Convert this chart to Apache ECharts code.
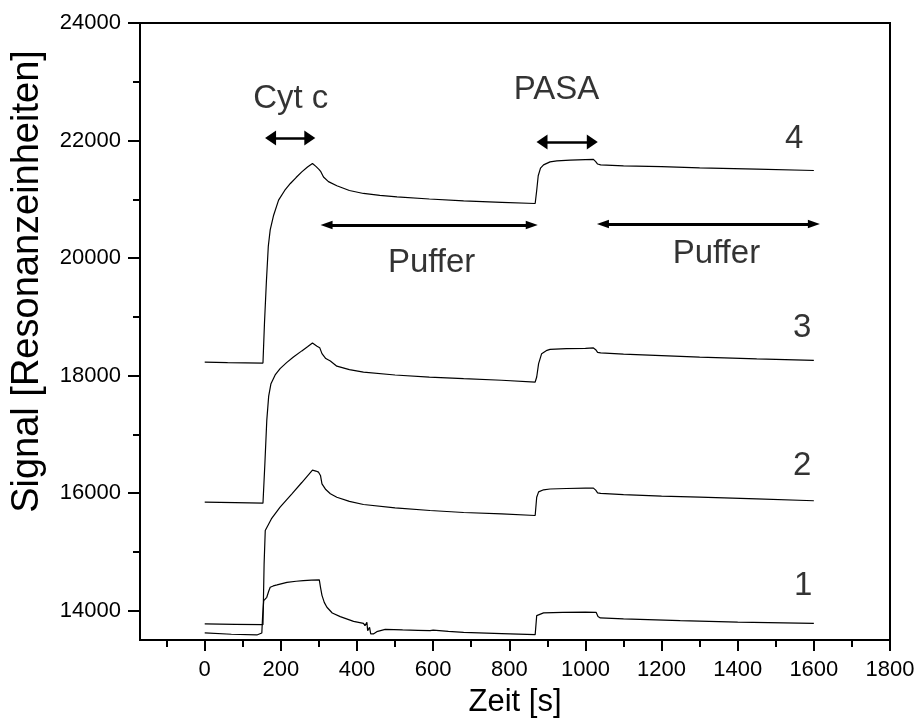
<!DOCTYPE html>
<html>
<head>
<meta charset="utf-8">
<script src="https://cdn.jsdelivr.net/npm/echarts@6/dist/echarts.min.js"></script>
<style>html,body{margin:0;padding:0;background:#fff;}#c{width:919px;height:726px;}</style>
</head>
<body>
<div id="c"></div>
<script>
// ---- data (time in s, signal in resonance units) ----
const time4 = [0, 60, 153, 157, 162, 167, 172, 181, 194, 210, 225, 240, 255, 270, 283, 292, 300, 305, 312, 325, 347, 380, 417, 460, 505, 590, 680, 780, 868, 872, 876, 882, 890, 907, 925, 960, 1000, 1021, 1027, 1032, 1040, 1100, 1200, 1300, 1450, 1600];
const signal4 = [18230, 18222, 18213, 18900, 19600, 20200, 20480, 20729, 20985, 21150, 21269, 21370, 21467, 21550, 21610, 21560, 21510, 21470, 21380, 21300, 21230, 21150, 21099, 21065, 21041, 21005, 20973, 20948, 20928, 21150, 21400, 21530, 21585, 21637, 21654, 21668, 21675, 21678, 21640, 21600, 21585, 21570, 21555, 21535, 21512, 21490];

const time3 = [0, 80, 153, 158, 163, 168, 174, 185, 198, 215, 233, 255, 270, 283, 295, 302, 308, 318, 330, 347, 380, 417, 500, 590, 680, 780, 868, 872, 877, 885, 899, 907, 950, 1000, 1021, 1027, 1032, 1040, 1100, 1200, 1300, 1450, 1600];
const signal3 = [15845, 15838, 15828, 16500, 17237, 17650, 17862, 18010, 18118, 18220, 18315, 18420, 18490, 18554, 18500, 18475, 18373, 18290, 18247, 18160, 18100, 18060, 18010, 17975, 17947, 17920, 17890, 17975, 18203, 18373, 18429, 18446, 18458, 18463, 18470, 18440, 18395, 18385, 18365, 18340, 18315, 18285, 18259];

const time2 = [0, 80, 153, 156, 159, 164, 175, 198, 229, 255, 283, 292, 299, 304, 308, 318, 330, 347, 380, 417, 500, 592, 680, 780, 868, 872, 877, 890, 907, 950, 1000, 1021, 1027, 1032, 1040, 1100, 1200, 1300, 1450, 1600];
const signal2 = [13773, 13767, 13761, 14800, 15363, 15392, 15560, 15760, 15988, 16180, 16390, 16375, 16356, 16300, 16158, 16060, 15990, 15930, 15860, 15806, 15750, 15704, 15670, 15645, 15619, 15930, 16020, 16056, 16070, 16078, 16083, 16085, 16050, 16005, 15995, 15975, 15950, 15930, 15900, 15870];

const time1 = [0, 70, 137, 150, 152, 155, 160, 163, 168, 172, 180, 190, 216, 240, 259, 280, 301, 304, 308, 314, 321, 335, 356, 391, 417, 421, 426, 428, 433, 436, 443, 452, 474, 520, 560, 592, 600, 605, 640, 680, 780, 868, 872, 877, 890, 940, 1000, 1028, 1033, 1039, 1100, 1249, 1400, 1600];
const signal1 = [13620, 13598, 13586, 13620, 13900, 14170, 14160, 14227, 14330, 14397, 14420, 14437, 14482, 14500, 14511, 14518, 14523, 14400, 14260, 14140, 14057, 13960, 13898, 13818, 13784, 13745, 13800, 13659, 13716, 13603, 13603, 13642, 13682, 13672, 13665, 13659, 13668, 13662, 13648, 13630, 13610, 13591, 13915, 13943, 13961, 13971, 13975, 13971, 13900, 13876, 13860, 13830, 13805, 13784];

// ---- ticks ----
const xTickLabels = [0, 200, 400, 600, 800, 1000, 1200, 1400, 1600, 1800];
const xMinorTicks = [-100, 100, 300, 500, 700, 900, 1100, 1300, 1500, 1700];
const yTickLabels = [14000, 16000, 18000, 20000, 22000, 24000];
const yMinorTicks = [15000, 17000, 19000, 21000, 23000];

// ---- annotations (data coordinates) ----
const labelTexts = ['Cyt c', 'PASA', 'Puffer', 'Puffer', '4', '3', '2', '1'];
const labelX = [226, 924, 596, 1344, 1548, 1569, 1569, 1572];
const labelY = [22707, 22860, 19916, 20077, 22026, 18818, 16461, 14419];

const shortArrowX1 = [173, 886];
const shortArrowX2 = [276, 1018];
const shortArrowY = [22043, 21975];
const longArrowX1 = [320, 1046];
const longArrowX2 = [859, 1600];
const longArrowY = [20562, 20579];

const FONT = '"Liberation Sans", Arial, Helvetica, sans-serif';
const zip = (t, s) => t.map((v, i) => [v, s[i]]);
const plain = v => String(v);

const curves = [[time4, signal4], [time3, signal3], [time2, signal2], [time1, signal1]];

const series = curves.map(c => ({
  type: 'line',
  data: zip(c[0], c[1]),
  showSymbol: false,
  symbol: 'none',
  silent: true,
  lineStyle: { color: '#000', width: 1.2 },
  animation: false
}));

function arrowSeries(x1, x2, y, size, width) {
  return {
    type: 'line',
    data: [],
    silent: true,
    animation: false,
    markLine: {
      silent: true,
      animation: false,
      symbol: ['triangle', 'triangle'],
      symbolSize: size,
      label: { show: false },
      lineStyle: { color: '#000', width: width, type: 'solid', opacity: 1 },
      itemStyle: { color: '#000' },
      emphasis: { disabled: true },
      data: x1.map((v, i) => [{ coord: [v, y[i]] }, { coord: [x2[i], y[i]] }])
    }
  };
}

series.push(arrowSeries(shortArrowX1, shortArrowX2, shortArrowY, [15, 11], 2.6));
series.push(arrowSeries(longArrowX1, longArrowX2, longArrowY, [8.5, 12], 3));

series.push({
  type: 'scatter',
  silent: true,
  animation: false,
  symbolSize: 0,
  data: labelTexts.map((t, i) => ({
    value: [labelX[i], labelY[i]],
    label: { show: true, position: 'inside', formatter: t, color: '#000', fontSize: 33, fontFamily: FONT, align: 'center', verticalAlign: 'middle', textBorderWidth: 0 }
  }))
});

const chart = echarts.init(document.getElementById('c'), null, { renderer: 'canvas' });
chart.setOption({
  animation: false,
  backgroundColor: '#fff',
  grid: { left: 140, right: 29, top: 23, bottom: 86, show: true, borderColor: '#000', borderWidth: 2, containLabel: false },
  xAxis: [{
    type: 'value', min: -170, max: 1800,
    name: 'Zeit [s]', nameLocation: 'middle', nameGap: 47,
    nameTextStyle: { color: '#000', fontSize: 31, fontFamily: FONT },
    axisLine: { show: true, onZero: false, lineStyle: { color: '#000', width: 2 } },
    axisTick: { show: true, length: 11, lineStyle: { color: '#000', width: 2 }, customValues: xTickLabels },
    axisLabel: { color: '#000', fontSize: 22, fontFamily: FONT, margin: 19, customValues: xTickLabels, formatter: plain },
    splitLine: { show: false }
  }, {
    type: 'value', min: -170, max: 1800, position: 'bottom', gridIndex: 0,
    axisLine: { show: false, onZero: false },
    axisTick: { show: true, length: 7, lineStyle: { color: '#000', width: 2 }, customValues: xMinorTicks },
    axisLabel: { show: false },
    splitLine: { show: false }
  }],
  yAxis: [{
    type: 'value', min: 13500, max: 24000,
    name: 'Signal [Resonanzeinheiten]', nameLocation: 'middle', nameGap: 93,
    nameTextStyle: { color: '#000', fontSize: 38, fontFamily: FONT, padding: [0, 0, 0, 100] },
    axisLine: { show: true, onZero: false, lineStyle: { color: '#000', width: 2 } },
    axisTick: { show: true, length: 12, lineStyle: { color: '#000', width: 2 }, customValues: yTickLabels },
    axisLabel: { color: '#000', fontSize: 22, fontFamily: FONT, margin: 19, customValues: yTickLabels, formatter: plain },
    splitLine: { show: false }
  }, {
    type: 'value', min: 13500, max: 24000, position: 'left', gridIndex: 0,
    axisLine: { show: false, onZero: false },
    axisTick: { show: true, length: 7, lineStyle: { color: '#000', width: 2 }, customValues: yMinorTicks },
    axisLabel: { show: false },
    splitLine: { show: false }
  }],
  series: series
});
</script>
</body>
</html>
